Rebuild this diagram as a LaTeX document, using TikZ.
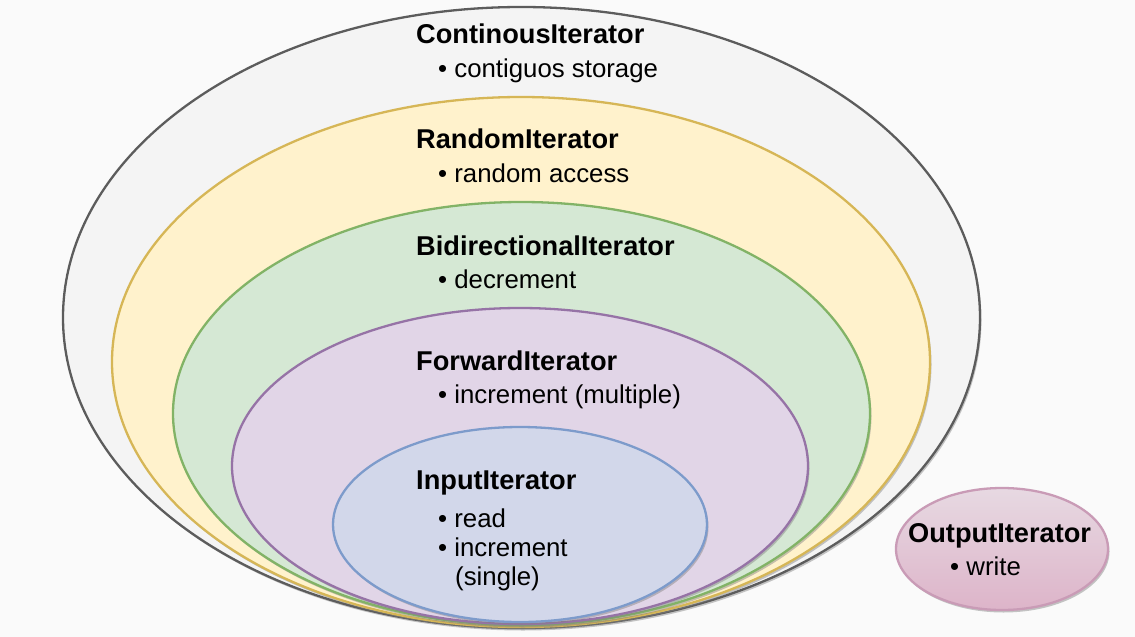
\documentclass[tikz,border=0pt]{standalone}
\usepackage{fontspec}
\setmainfont{Liberation Sans}
\usepackage{xcolor}
\usepackage{tikz}
\usetikzlibrary{shapes,shadows,positioning}

\definecolor{pagebg}{HTML}{FAFAFA}
\definecolor{contfill}{HTML}{F4F4F4}
\definecolor{contline}{HTML}{5C5C5C}
\definecolor{randfill}{HTML}{FFF2CC}
\definecolor{randline}{HTML}{D6B656}
\definecolor{bidifill}{HTML}{D5E8D4}
\definecolor{bidiline}{HTML}{82B366}
\definecolor{forwfill}{HTML}{E1D5E7}
\definecolor{forwline}{HTML}{9673A6}
\definecolor{inpfill}{HTML}{D2D7EA}
\definecolor{inpline}{HTML}{7D9BCB}
\definecolor{outtop}{HTML}{E7D9E2}
\definecolor{outbot}{HTML}{DDB4C9}
\definecolor{outline}{HTML}{C99BB6}

\begin{document}
\begin{tikzpicture}[x=1pt, y=-1pt,
    ring/.style={ellipse, draw, line width=2.3pt, inner sep=0pt,
        drop shadow={shadow xshift=1.5pt, shadow yshift=-2.5pt, opacity=0.45}},
    title/.style={anchor=base west, inner sep=0pt, font=\fontsize{27.2}{30}\selectfont\bfseries},
    item/.style={anchor=base west, inner sep=0pt, font=\fontsize{25.8}{30}\selectfont}]

    % page
    \fill[pagebg] (0,0) rectangle (1135,637);
    \useasboundingbox (0,0) rectangle (1135,637);

    % nested iterator categories
    \node (contin) [ring, fill=contfill, draw=contline, minimum width=917pt, minimum height=621pt] at (521.5,317.5) {};
    \node (random) [ring, fill=randfill, draw=randline, minimum width=818pt, minimum height=530pt] at (521,362) {};
    \node (bidir) [ring, fill=bidifill, draw=bidiline, minimum width=697pt, minimum height=423pt] at (521.5,413.5) {};
    \node (forward) [ring, fill=forwfill, draw=forwline, minimum width=576pt, minimum height=316pt] at (520,466) {};
    \node (input) [ring, fill=inpfill, draw=inpline, minimum width=374pt, minimum height=195pt] at (520,524.5) {};
    \node (output) [ring, top color=outtop, bottom color=outbot, draw=outline, minimum width=212pt, minimum height=122pt] at (1002,549) {};

    % labels
    \node (continT) [title] at (416,43) {ContinousIterator};
    \node (continA) [item] at (438,77) {• contiguos storage};
    \node (randomT) [title] at (416,148) {RandomIterator};
    \node (randomA) [item] at (438,182) {• random access};
    \node (bidirT) [title] at (416,255) {BidirectionalIterator};
    \node (bidirA) [item] at (438,288) {• decrement};
    \node (forwardT) [title] at (416,370) {ForwardIterator};
    \node (forwardA) [item] at (438,403) {• increment (multiple)};
    \node (inputT) [title] at (416,489) {InputIterator};
    \node (inputA) [item] at (438,527) {• read};
    \node (inputB) [item] at (438,556) {• increment};
    \node (inputC) [item] at (455,585) {(single)};
    \node (outputT) [title] at (908,542) {OutputIterator};
    \node (outputA) [item] at (950,575) {• write};
\end{tikzpicture}
\end{document}
